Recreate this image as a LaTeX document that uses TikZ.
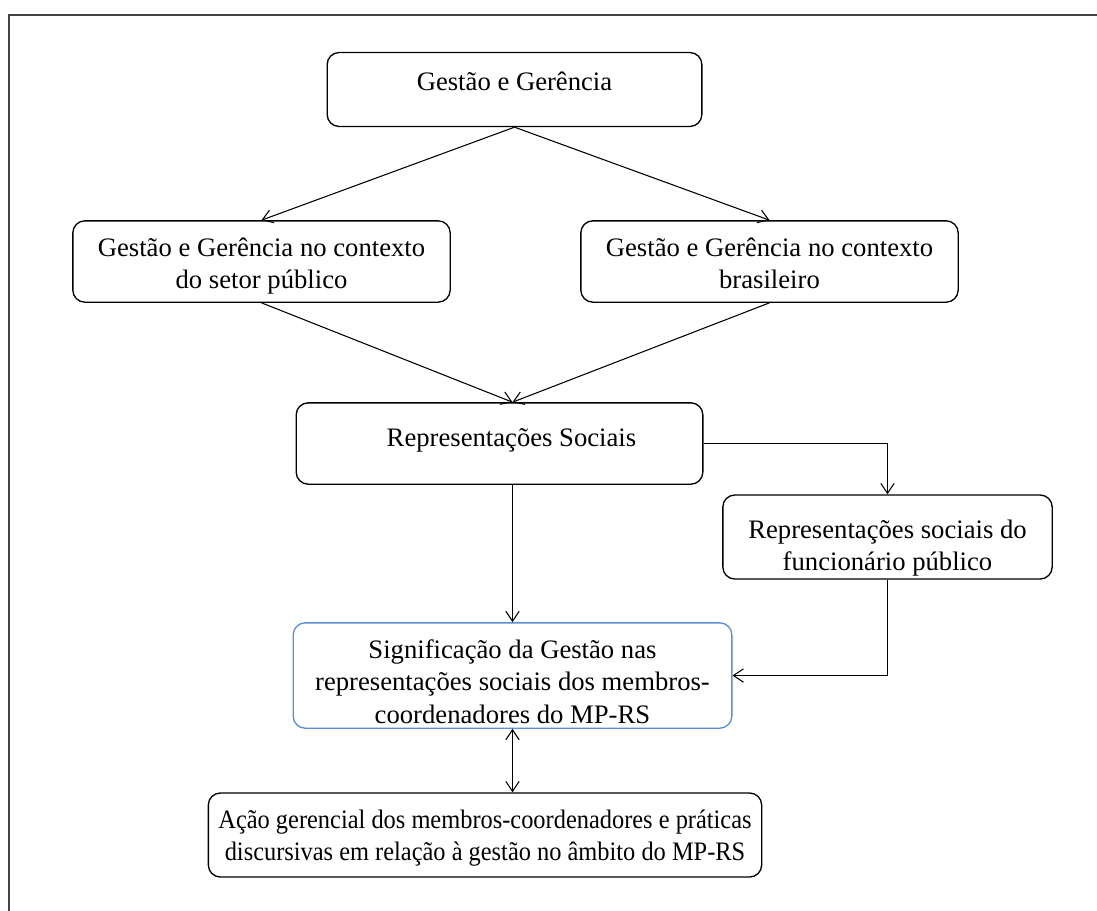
\documentclass[tikz,border=0pt]{standalone}
\usepackage{fontspec}
\setmainfont{Liberation Serif}
\newfontfamily\narrowserif[FakeStretch=0.915]{Liberation Serif}
\usetikzlibrary{arrows.meta}
\definecolor{framegray}{HTML}{444444}
\definecolor{boxblue}{HTML}{5B8FD6}
% centred lines whose first baseline sits #1 above the node centre
\newcommand{\linesat}[2]{\raisebox{#1}[0pt][0pt]{\begin{tabular}[t]{@{}c@{}}#2\end{tabular}}}
\begin{document}
\begin{tikzpicture}[x=0.75pt,y=-0.75pt,
  box/.style={draw=black,line width=1pt,rounded corners=9pt,align=center,
    font=\fontsize{20}{24.4}\selectfont,inner sep=0pt},
  link/.style={line width=0.8pt,-{Straight Barb[length=7.5pt,width=10pt]}},
  dlink/.style={line width=0.8pt,{Straight Barb[length=7.5pt,width=10pt]}-{Straight Barb[length=7.5pt,width=10pt]}}]
\useasboundingbox (0,0) rectangle (1097,911);
% open frame: top and left edges only
\draw[framegray,line width=1.6pt] (1097,15) -- (9,15) -- (9,911);

\node[box,minimum width=281pt,minimum height=55.5pt] (top) at (514.5,89.5)
  {\linesat{-0.5pt}{Gestão e Gerência}};
\node[box,minimum width=283pt,minimum height=61pt] (pub) at (261.5,261.5)
  {\linesat{4pt}{Gestão e Gerência no contexto\\do setor público}};
\node[box,minimum width=283pt,minimum height=61pt] (bra) at (769.5,261.5)
  {\linesat{4pt}{Gestão e Gerência no contexto\\brasileiro}};
\node[box,minimum width=305pt,minimum height=61pt] (rs) at (499.5,443.5)
  {\hspace*{18pt}\linesat{-2pt}{Representações Sociais}};
\node[box,minimum width=247pt,minimum height=63pt] (func) at (887.5,537)
  {\linesat{-0.8pt}{Representações sociais do\\funcionário público}};
\node[box,draw=boxblue,minimum width=329pt,minimum height=79pt] (sig) at (512.5,675.5)
  {\linesat{13pt}{Significação da Gestão nas\\representações sociais dos membros-\\coordenadores do MP-RS}};
\node[box,font=\narrowserif\fontsize{20}{24.4}\selectfont,minimum width=415pt,minimum height=63pt] (acao) at (485,835)
  {\linesat{5.2pt}{Ação gerencial dos membros-coordenadores e práticas\\discursivas em relação à gestão no âmbito do MP-RS}};

\draw[link] (top.south) -- (pub.north);
\draw[link] (top.south) -- (bra.north);
\draw[link] (pub.south) -- (rs.north -| sig.north);
\draw[link] (bra.south) -- (rs.north -| sig.north);
\draw[link] (rs.south -| sig.north) -- (sig.north);
\draw[link] (rs.east) -| (func.north);
\draw[link] (func.south) |- (sig.east);
\draw[dlink] (sig.south) -- (sig.south |- acao.north);
\end{tikzpicture}
\end{document}
